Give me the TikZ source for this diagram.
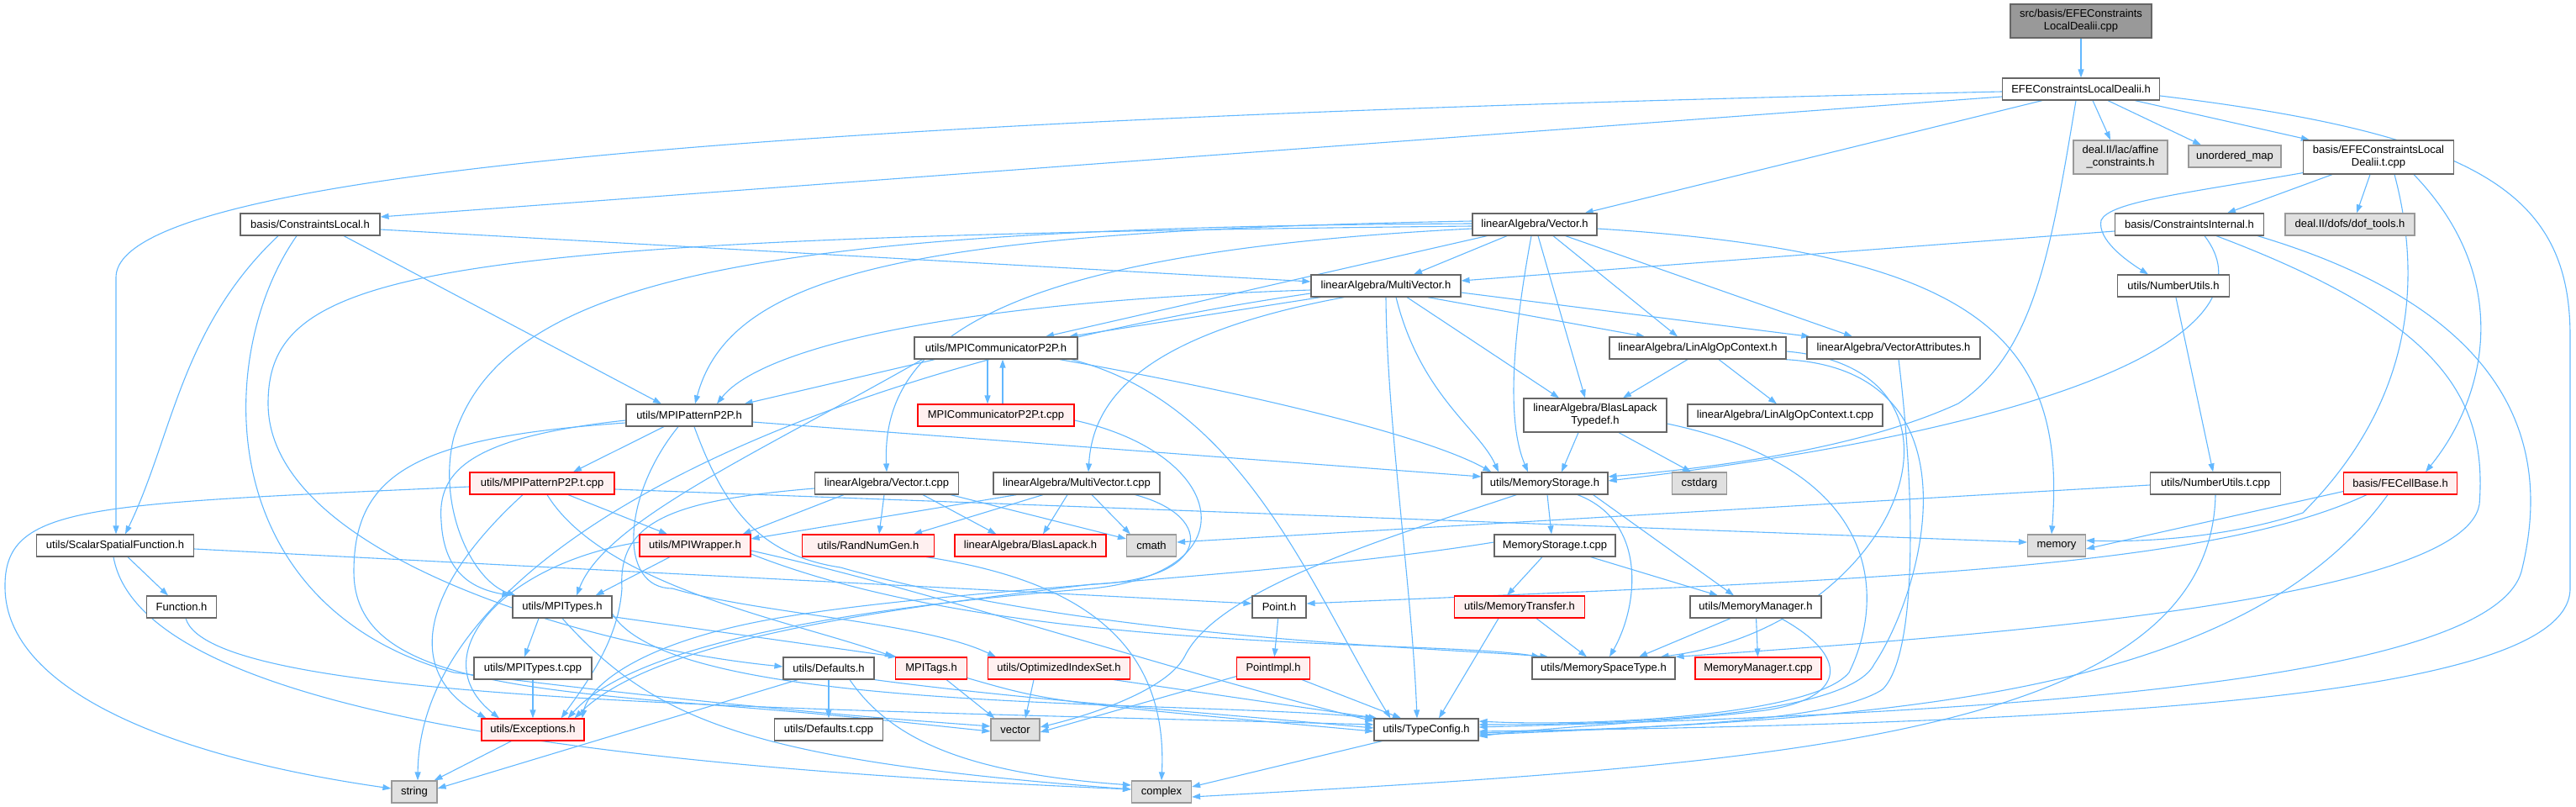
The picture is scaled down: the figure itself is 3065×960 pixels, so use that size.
\documentclass[tikz,border=0pt]{standalone}
\usepackage{fontspec}
\setmainfont{Liberation Sans}
\usetikzlibrary{arrows.meta,calc}
\definecolor{edgec}{HTML}{63B8FF}
\definecolor{gborder}{HTML}{666666}
\definecolor{redfill}{HTML}{FFF0F0}
\definecolor{extfill}{HTML}{E0E0E0}
\definecolor{extb}{HTML}{999999}
\definecolor{rootfill}{HTML}{999999}
\pgfdeclarelayer{bg}
\pgfsetlayers{bg,main}
\tikzset{
 nb/.style={draw=gborder, fill=white, line width=1.2pt, minimum height=26pt, inner sep=1pt, font=\fontsize{13}{15}\selectfont, align=center},
 rn/.style={nb, draw=red, fill=redfill},
 xn/.style={nb, draw=extb, fill=extfill},
 rootn/.style={nb, fill=rootfill},
 e/.style={draw=edgec, line width=1.1pt, -{Triangle[length=10pt,width=7pt]}},
}
\begin{document}
\begin{tikzpicture}[x=1pt,y=-1pt]
\useasboundingbox (0,0) rectangle (3065,960);
% nodes
\node[rootn, minimum width=168, minimum height=40] (src) at (2476,25) {src/basis/EFEConstraints\\LocalDealii.cpp};
\node[nb, minimum width=187] (efeh) at (2476,106) {EFEConstraintsLocalDealii.h};
\node[xn, minimum width=112, minimum height=40] (affine) at (2523,187) {deal.II/lac/affine\\\_constraints.h};
\node[xn, minimum width=110] (umap) at (2659,186) {unordered\_map};
\node[nb, minimum width=179, minimum height=40] (efetcpp) at (2830,187) {basis/EFEConstraintsLocal\\Dealii.t.cpp};
\node[nb, minimum width=166] (conslocal) at (369,267) {basis/ConstraintsLocal.h};
\node[nb, minimum width=148] (vectorh) at (1826,267) {linearAlgebra/Vector.h};
\node[nb, minimum width=177] (consint) at (2605,267) {basis/ConstraintsInternal.h};
\node[xn, minimum width=154] (doftools) at (2796,267) {deal.II/dofs/dof\_tools.h};
\node[nb, minimum width=178] (multivec) at (1649,340) {linearAlgebra/MultiVector.h};
\node[nb, minimum width=133] (numutils) at (2586,340) {utils/NumberUtils.h};
\node[nb, minimum width=194] (commp2p) at (1185,414) {utils/MPICommunicatorP2P.h};
\node[nb, minimum width=210] (linalgctx) at (2020,414) {linearAlgebra/LinAlgOpContext.h};
\node[nb, minimum width=206] (vecattr) at (2253,414) {linearAlgebra/VectorAttributes.h};
\node[nb, minimum width=150] (patternp2p) at (820,494) {utils/MPIPatternP2P.h};
\node[rn, minimum width=186] (commp2ptcpp) at (1185,494) {MPICommunicatorP2P.t.cpp};
\node[nb, minimum width=170, minimum height=40] (blastypedef) at (1898,494) {linearAlgebra/BlasLapack\\Typedef.h};
\node[nb, minimum width=232] (linalgctxtcpp) at (2124,494) {linearAlgebra/LinAlgOpContext.t.cpp};
\node[rn, minimum width=172] (patternp2ptcpp) at (645,575) {utils/MPIPatternP2P.t.cpp};
\node[nb, minimum width=171] (vectcpp) at (1055,575) {linearAlgebra/Vector.t.cpp};
\node[nb, minimum width=198] (multivectcpp) at (1281,575) {linearAlgebra/MultiVector.t.cpp};
\node[nb, minimum width=150] (memstorage) at (1838,575) {utils/MemoryStorage.h};
\node[xn, minimum width=65] (cstdarg) at (2022,575) {cstdarg};
\node[nb, minimum width=155] (numutilstcpp) at (2636,575) {utils/NumberUtils.t.cpp};
\node[rn, minimum width=135] (fecellbase) at (2856,575) {basis/FECellBase.h};
\node[nb, minimum width=187] (scalarsf) at (137,649) {utils/ScalarSpatialFunction.h};
\node[rn, minimum width=132] (mpiwrapper) at (827,649) {utils/MPIWrapper.h};
\node[rn, minimum width=157] (randnum) at (1033,649) {utils/RandNumGen.h};
\node[rn, minimum width=180] (blaslapack) at (1226,649) {linearAlgebra/BlasLapack.h};
\node[xn, minimum width=59] (cmath) at (1370,649) {cmath};
\node[nb, minimum width=144] (memstoragetcpp) at (1850,649) {MemoryStorage.t.cpp};
\node[xn, minimum width=69] (memory) at (2447,649) {memory};
\node[nb, minimum width=83] (function) at (216,722) {Function.h};
\node[nb, minimum width=118] (mpitypes) at (669,722) {utils/MPITypes.h};
\node[nb, minimum width=64] (point) at (1522,722) {Point.h};
\node[rn, minimum width=155] (memtransfer) at (1808,722) {utils/MemoryTransfer.h};
\node[nb, minimum width=156] (memmanager) at (2089,722) {utils/MemoryManager.h};
\node[nb, minimum width=140] (mpitypestcpp) at (634,795) {utils/MPITypes.t.cpp};
\node[nb, minimum width=108] (defaults) at (986,795) {utils/Defaults.h};
\node[rn, minimum width=85] (mpitags) at (1108,795) {MPITags.h};
\node[rn, minimum width=169] (optindex) at (1260,795) {utils/OptimizedIndexSet.h};
\node[rn, minimum width=87] (pointimpl) at (1515,795) {PointImpl.h};
\node[nb, minimum width=170] (memspace) at (1908,795) {utils/MemorySpaceType.h};
\node[rn, minimum width=150] (memmanagertcpp) at (2092,795) {MemoryManager.t.cpp};
\node[rn, minimum width=122] (exceptions) at (634,868) {utils/Exceptions.h};
\node[nb, minimum width=129] (defaultstcpp) at (986,868) {utils/Defaults.t.cpp};
\node[xn, minimum width=58] (vector) at (1208,868) {vector};
\node[nb, minimum width=124] (typeconfig) at (1697,868) {utils/TypeConfig.h};
\node[xn, minimum width=54] (string) at (493,942) {string};
\node[xn, minimum width=71] (complex) at (1382,942) {complex};

\begin{pgfonlayer}{bg}
% root and EFEConstraintsLocalDealii.h
\draw[e] (src) -- (efeh);
\draw[e] ($(efeh.south)+(14,0)$) -- ($(affine.north)+(-12,0)$);
\draw[e] ($(efeh.south)+(32,0)$) -- ($(umap.north)+(-40,0)$);
\draw[e] ($(efeh.south east)+(-30,0)$) -- ($(efetcpp.north west)+(8,0)$);
\draw[e] ($(efeh.south west)+(48,0)$) -- ($(vectorh.north east)+(-15,0)$);
\draw[e] ($(efeh.west)+(0,9)$) -- ($(conslocal.east)+(0,-9)$);
\draw[e] ($(efeh.west)+(0,3)$) .. controls (1000,140) and (138,200) .. (138,330) -- ($(scalarsf.north)+(1,0)$);
\draw[e] ($(efeh.south)+(-6,0)$) .. controls (2440,300) and (2420,420) .. (2330,480) .. controls (2200,540) and (2000,560) .. ($(memstorage.east)+(0,-8)$);
\draw[e] ($(efeh.east)+(0,8)$) .. controls (2950,160) and (3058,230) .. (3058,400) -- (3058,700) .. controls (3058,830) and (2500,860) .. ($(typeconfig.east)+(0,2)$);
% EFEConstraintsLocalDealii.t.cpp
\draw[e] ($(efetcpp.south west)+(0,-2)$) .. controls (2600,230) and (2510,240) .. (2500,262) .. controls (2495,285) and (2530,310) .. ($(numutils.north)+(-30,0)$);
\draw[e] ($(efetcpp.south)+(-55,0)$) -- ($(consint.north)+(45,0)$);
\draw[e] ($(efetcpp.south)+(-10,0)$) -- ($(doftools.north)+(8,0)$);
\draw[e] ($(efetcpp.south)+(19,0)$) .. controls (2900,400) and (2820,530) .. (2740,610) .. controls (2650,640) and (2550,645) .. ($(memory.east)+(0,-6)$);
\draw[e] ($(efetcpp.south)+(42,0)$) .. controls (2990,330) and (2960,470) .. ($(fecellbase.north)+(30,0)$);
% ConstraintsInternal.h
\draw[e] ($(consint.west)+(0,8)$) -- ($(multivec.east)+(0,-6)$);
\draw[e] ($(consint.south)+(18,0)$) .. controls (2700,380) and (2520,500) .. ($(memstorage.east)+(0,-3)$);
\draw[e] ($(consint.south)+(32,0)$) .. controls (2900,380) and (2960,470) .. (2950,600) .. controls (2930,720) and (2300,760) .. (memspace.north east);
\draw[e] ($(consint.south east)+(-8,0)$) .. controls (3020,380) and (3030,560) .. (3000,680) .. controls (2960,820) and (2300,850) .. ($(typeconfig.east)+(0,-3)$);
% NumberUtils
\draw[e] (numutils) -- (numutilstcpp);
\draw[e] ($(numutilstcpp.west)+(0,2)$) -- ($(cmath.east)+(0,-4)$);
\draw[e] (numutilstcpp.south) .. controls (2630,880) and (2100,910) .. ($(complex.east)+(0,6)$);
% FECellBase
\draw[e] ($(fecellbase.south west)+(0,-4)$) -- ($(memory.east)+(0,4)$);
\draw[e] ($(fecellbase.south west)+(28,0)$) .. controls (2620,680) and (2200,690) .. ($(point.east)+(0,-4)$);
\draw[e] ($(fecellbase.south)+(-15,0)$) .. controls (2660,840) and (2200,855) .. ($(typeconfig.east)+(0,6)$);
% ConstraintsLocal
\draw[e] ($(conslocal.east)+(0,6)$) -- ($(multivec.west)+(0,-5)$);
\draw[e] ($(conslocal.south)+(40,0)$) -- ($(patternp2p.north)+(-33,0)$);
\draw[e] ($(conslocal.south)+(-38,0)$) .. controls (215,390) and (205,520) .. ($(scalarsf.north)+(12,0)$);
\draw[e] ($(conslocal.south)+(-16,0)$) .. controls (255,420) and (250,720) .. (540,800) .. controls (900,845) and (1100,858) .. ($(vector.west)+(0,-4)$);
% ScalarSpatialFunction, Function
\draw[e] ($(scalarsf.south)+(15,0)$) -- ($(function.north)+(-16,0)$);
\draw[e] ($(scalarsf.east)+(0,4)$) -- ($(point.west)+(0,-4)$);
\draw[e] ($(scalarsf.south)+(-2,0)$) .. controls (170,860) and (800,915) .. ($(complex.west)+(0,-3)$);
\draw[e] ($(function.south)+(5,0)$) .. controls (250,835) and (900,842) .. ($(typeconfig.west)+(0,-6)$);
% Vector.h
\draw[e] (vectorh) -- (multivec);
\draw[e] ($(vectorh.south west)+(18,0)$) -- ($(commp2p.north)+(59,0)$);
\draw[e] ($(vectorh.south)+(-4,0)$) .. controls (1800,400) and (1792,500) .. ($(memstorage.north)+(-20,0)$);
\draw[e] ($(vectorh.south)+(4,0)$) -- ($(blastypedef.north)+(-12,0)$);
\draw[e] ($(vectorh.south)+(22,0)$) -- ($(linalgctx.north)+(-24,0)$);
\draw[e] ($(vectorh.south east)+(-38,0)$) -- ($(vecattr.north)+(-49,0)$);
\draw[e] ($(vectorh.east)+(0,5)$) .. controls (2350,300) and (2460,400) .. ($(memory.north)+(-6,0)$);
\draw[e] ($(vectorh.west)+(0,-4)$) .. controls (1100,275) and (870,320) .. ($(patternp2p.north)+(7,0)$);
\draw[e] ($(vectorh.west)+(0,-1)$) .. controls (900,270) and (600,330) .. (540,520) .. controls (520,600) and (560,690) .. ($(mpitypes.north west)+(4,0)$);
\draw[e] ($(vectorh.west)+(0,2)$) .. controls (500,282) and (319,320) .. (319,480) .. controls (319,660) and (700,770) .. ($(defaults.west)+(0,-2)$);
\draw[e] ($(vectorh.west)+(0,5)$) .. controls (1200,300) and (1048,400) .. (vectcpp.north);
% MultiVector.h
\draw[e] ($(multivec.south west)+(12,0)$) -- ($(commp2p.north)+(87,0)$);
\draw[e] ($(multivec.west)+(0,5)$) .. controls (1100,360) and (900,420) .. ($(patternp2p.north)+(33,0)$);
\draw[e] ($(multivec.south west)+(40,0)$) .. controls (1350,400) and (1300,480) .. ($(multivectcpp.north)+(14,0)$);
\draw[e] ($(multivec.south east)+(-40,0)$) -- ($(linalgctx.north)+(-63,0)$);
\draw[e] ($(multivec.east)+(0,8)$) -- ($(vecattr.north west)+(4,0)$);
\draw[e] ($(multivec.south)+(25,0)$) -- ($(blastypedef.north)+(-43,0)$);
\draw[e] (multivec.south) .. controls (1650,500) and (1680,700) .. ($(typeconfig.north)+(-11,0)$);
\draw[e] ($(multivec.south)+(12,0)$) .. controls (1690,470) and (1760,510) .. ($(memstorage.north)+(-55,0)$);
\draw[e] ($(multivec.west)+(0,9)$) .. controls (1000,430) and (500,640) .. ($(string.north)+(4,0)$);
% MPICommunicatorP2P.h
\draw[e] ($(commp2p.south west)+(25,0)$) -- ($(patternp2p.north east)+(-10,0)$);
\draw[e] ($(commp2p.south)+(-10,0)$) -- ($(commp2ptcpp.north)+(-10,0)$);
\draw[e] ($(commp2ptcpp.north)+(8,0)$) -- ($(commp2p.south)+(8,0)$);
\draw[e] ($(commp2p.south west)+(10,0)$) .. controls (900,540) and (720,620) .. ($(mpitypes.north)+(17,0)$);
\draw[e] ($(commp2p.south east)+(-22,0)$) .. controls (1500,470) and (1700,520) .. ($(memstorage.north west)+(12,0)$);
\draw[e] ($(commp2p.south east)+(-8,0)$) .. controls (1480,480) and (1560,700) .. ($(typeconfig.north west)+(20,0)$);
\draw[e] ($(commp2ptcpp.east)+(0,6)$) .. controls (1460,540) and (1490,680) .. (1300,700) .. controls (1050,720) and (760,760) .. ($(exceptions.north east)+(-20,0)$);
% LinAlgOpContext, BlasLapackTypedef, VectorAttributes
\draw[e] ($(linalgctx.south)+(-12,0)$) -- ($(blastypedef.north)+(33,0)$);
\draw[e] ($(linalgctx.south)+(25,0)$) -- ($(linalgctxtcpp.north)+(-10,0)$);
\draw[e] ($(linalgctx.south east)+(-2,0)$) .. controls (2360,440) and (2290,700) .. (2230,790) .. controls (2200,850) and (1950,862) .. ($(typeconfig.east)+(0,-6)$);
\draw[e] ($(linalgctx.east)+(0,4)$) .. controls (2380,440) and (2260,745) .. ($(memspace.north east)+(-18,0)$);
\draw[e] ($(blastypedef.south)+(-20,0)$) -- ($(memstorage.north)+(20,0)$);
\draw[e] ($(blastypedef.south)+(28,0)$) -- ($(cstdarg.north)+(-10,0)$);
\draw[e] ($(blastypedef.east)+(0,10)$) .. controls (2250,560) and (2240,720) .. (2200,800) .. controls (2160,850) and (1900,865) .. ($(typeconfig.east)+(0,-10)$);
\draw[e] ($(vecattr.south)+(6,0)$) .. controls (2280,600) and (2280,780) .. (2240,820) .. controls (2180,860) and (1950,866) .. ($(typeconfig.east)+(0,4)$);
% MPIPatternP2P.h
\draw[e] ($(patternp2p.south)+(-30,0)$) -- ($(patternp2ptcpp.north)+(37,0)$);
\draw[e] ($(patternp2p.west)+(0,6)$) .. controls (560,520) and (520,560) .. (525,620) .. controls (528,680) and (560,700) .. ($(mpitypes.north west)+(-2,0)$);
\draw[e] ($(patternp2p.west)+(0,9)$) .. controls (500,520) and (421,560) .. (421,680) .. controls (421,790) and (560,815) .. (800,835) .. controls (1000,850) and (1100,862) .. ($(vector.west)+(0,2)$);
\draw[e] ($(patternp2p.south)+(-13,0)$) .. controls (740,590) and (735,700) .. (800,700) .. controls (900,730) and (1100,740) .. ($(optindex.north west)+(10,0)$);
\draw[e] ($(patternp2p.south)+(6,0)$) .. controls (860,600) and (900,660) .. (1000,675) .. controls (1300,760) and (1700,770) .. ($(memspace.north west)+(20,0)$);
\draw[e] ($(patternp2p.east)+(0,8)$) -- ($(memstorage.west)+(0,-8)$);
% MPIPatternP2P.t.cpp
\draw[e] ($(patternp2ptcpp.west)+(0,4)$) .. controls (100,600) and (4,600) .. (6,700) .. controls (8,820) and (200,900) .. ($(string.west)+(0,-4)$);
\draw[e] ($(patternp2ptcpp.south)+(31,0)$) -- ($(mpiwrapper.north)+(-33,0)$);
\draw[e] ($(patternp2ptcpp.south)+(-23,0)$) .. controls (500,700) and (480,800) .. ($(exceptions.north west)+(6,0)$);
\draw[e] ($(patternp2ptcpp.east)+(0,7)$) -- ($(memory.west)+(0,-4)$);
\draw[e] ($(patternp2ptcpp.south)+(6,0)$) .. controls (720,700) and (950,740) .. ($(mpitags.north west)+(-2,0)$);
% Vector.t.cpp
\draw[e] ($(vectcpp.south west)+(35,0)$) -- ($(mpiwrapper.north east)+(-10,0)$);
\draw[e] ($(vectcpp.south)+(-3,0)$) -- ($(randnum.north)+(13,0)$);
\draw[e] ($(vectcpp.south)+(43,0)$) -- ($(blaslapack.north west)+(50,0)$);
\draw[e] ($(vectcpp.south east)+(-10,0)$) -- ($(cmath.west)+(0,-8)$);
\draw[e] ($(vectcpp.west)+(0,6)$) .. controls (800,595) and (735,620) .. (740,700) .. controls (736,760) and (700,810) .. ($(exceptions.north east)+(-28,0)$);
% MultiVector.t.cpp
\draw[e] ($(multivectcpp.south west)+(28,0)$) -- ($(mpiwrapper.east)+(0,-8)$);
\draw[e] ($(multivectcpp.south)+(-40,0)$) -- ($(randnum.north east)+(-25,0)$);
\draw[e] ($(multivectcpp.south)+(-11,0)$) -- ($(blaslapack.north)+(15,0)$);
\draw[e] ($(multivectcpp.south)+(18,0)$) -- ($(cmath.north west)+(5,0)$);
\draw[e] ($(multivectcpp.south east)+(-30,0)$) .. controls (1450,615) and (1440,690) .. (1300,695) .. controls (1050,725) and (780,760) .. ($(exceptions.north east)+(-12,0)$);
% RandNumGen
\draw[e] ($(randnum.south east)+(-10,0)$) .. controls (1280,690) and (1390,760) .. (complex.north);
% MPIWrapper
\draw[e] ($(mpiwrapper.south)+(-30,0)$) -- ($(mpitypes.north east)+(-20,0)$);
\draw[e] ($(mpiwrapper.west)+(0,-4)$) .. controls (600,670) and (500,780) .. ($(exceptions.north)+(-40,0)$);
\draw[e] ($(mpiwrapper.east)+(0,6)$) .. controls (1100,700) and (1400,800) .. ($(typeconfig.west)+(0,-10)$);
\draw[e] ($(mpiwrapper.east)+(0,10)$) .. controls (1200,780) and (1700,760) .. ($(memspace.north west)+(10,0)$);
% MemoryStorage
\draw[e] ($(memstorage.south)+(3,0)$) -- ($(memstoragetcpp.north)+(-4,0)$);
\draw[e] ($(memstorage.south east)+(-18,0)$) -- ($(memmanager.north)+(-26,0)$);
\draw[e] ($(memstorage.south)+(39,0)$) .. controls (1960,620) and (1950,720) .. ($(memspace.north)+(7,0)$);
\draw[e] ($(memstorage.south west)+(42,0)$) .. controls (1650,640) and (1450,700) .. (1410,780) .. controls (1390,820) and (1300,850) .. ($(vector.east)+(0,-3)$);
% MemoryStorage.t.cpp
\draw[e] ($(memstoragetcpp.south)+(-15,0)$) -- ($(memtransfer.north)+(-15,0)$);
\draw[e] ($(memstoragetcpp.south east)+(-30,0)$) -- ($(memmanager.north)+(-45,0)$);
\draw[e] ($(memstoragetcpp.west)+(0,-4)$) .. controls (1500,690) and (1100,700) .. (900,740) .. controls (750,770) and (700,820) .. ($(exceptions.north east)+(-3,0)$);
% MemoryTransfer, MemoryManager
\draw[e] ($(memtransfer.south)+(20,0)$) -- ($(memspace.north)+(-20,0)$);
\draw[e] ($(memtransfer.south)+(-25,0)$) -- ($(typeconfig.north)+(15,0)$);
\draw[e] ($(memmanager.south)+(-30,0)$) -- ($(memspace.north)+(42,0)$);
\draw[e] (memmanager) -- (memmanagertcpp);
\draw[e] ($(memmanager.south)+(30,0)$) .. controls (2200,780) and (2200,830) .. (2100,845) .. controls (2000,858) and (1850,864) .. ($(typeconfig.east)+(0,8)$);
% MPITypes
\draw[e] ($(mpitypes.south)+(-28,0)$) -- ($(mpitypestcpp.north)+(-10,0)$);
\draw[e] ($(mpitypes.south east)+(0,-2)$) -- ($(mpitags.north west)+(2,0)$);
\draw[e] (mpitypes.south) .. controls (780,860) and (900,905) .. ($(complex.west)+(0,-3)$);
\draw[e] ($(mpitypes.east)+(0,8)$) .. controls (800,850) and (1400,832) .. ($(typeconfig.west)+(0,-14)$);
\draw[e] (mpitypestcpp) -- (exceptions);
\draw[e] ($(exceptions.south west)+(36,0)$) -- ($(string.north east)+(-4,0)$);
% Defaults
\draw[e] (defaults) -- (defaultstcpp);
\draw[e] ($(defaults.south west)+(18,0)$) -- ($(string.east)+(0,-4)$);
\draw[e] ($(defaults.south)+(25,0)$) .. controls (1060,880) and (1150,920) .. ($(complex.west)+(0,-8)$);
\draw[e] (defaults.south east) .. controls (1200,830) and (1400,845) .. ($(typeconfig.west)+(0,-2)$);
% MPITags, OptimizedIndexSet, PointImpl, Point
\draw[e] ($(mpitags.south east)+(-25,0)$) -- ($(vector.north west)+(5,0)$);
\draw[e] ($(mpitags.south east)+(0,-2)$) .. controls (1250,835) .. ($(typeconfig.west)+(0,2)$);
\draw[e] ($(optindex.south)+(-30,0)$) -- ($(vector.north)+(12,0)$);
\draw[e] ($(optindex.south east)+(-20,0)$) -- ($(typeconfig.north west)+(4,0)$);
\draw[e] ($(pointimpl.south west)+(0,-4)$) -- ($(vector.east)+(0,3)$);
\draw[e] ($(pointimpl.south east)+(-10,0)$) -- ($(typeconfig.north)+(-30,0)$);
\draw[e] (point) -- (pointimpl);
% TypeConfig
\draw[e] ($(typeconfig.south west)+(10,0)$) -- ($(complex.east)+(0,-6)$);
\end{pgfonlayer}
\end{tikzpicture}
\end{document}
